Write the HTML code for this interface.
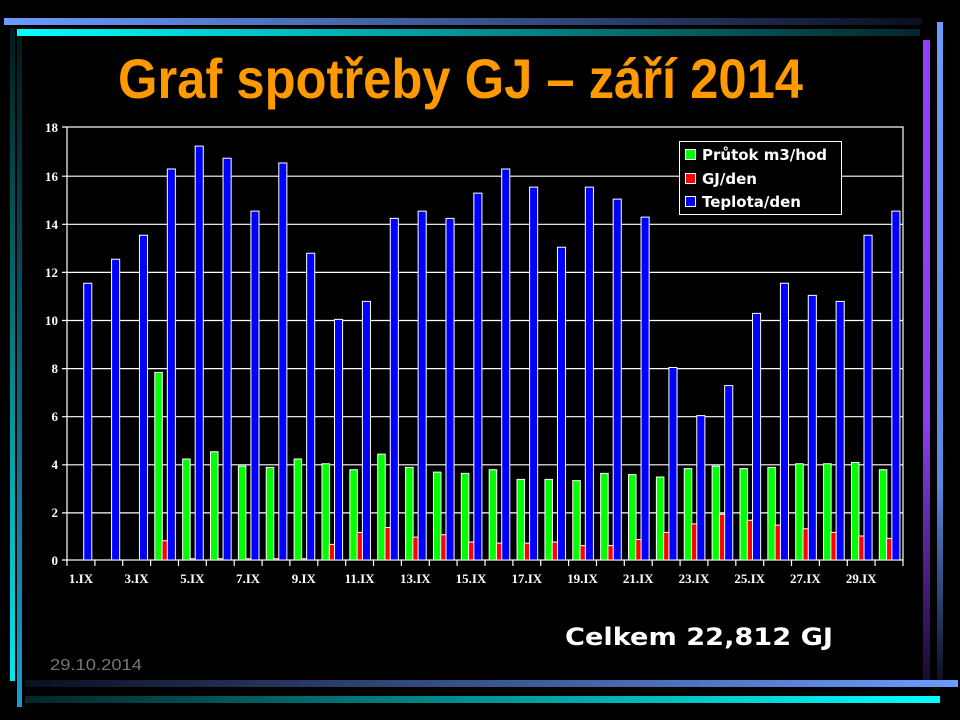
<!DOCTYPE html>
<html><head><meta charset="utf-8"><style>
html,body{margin:0;padding:0;background:#000;width:960px;height:720px;overflow:hidden}
g.bars rect{vector-effect:non-scaling-stroke;stroke:#fff;stroke-width:1}
</style></head><body>
<svg width="960" height="720" viewBox="0 0 960 720" xmlns="http://www.w3.org/2000/svg">
<defs>
<linearGradient id="gb" x1="0" x2="1"><stop offset="0" stop-color="#6a9cff"/><stop offset="1" stop-color="#0a0f20"/></linearGradient>
<linearGradient id="gc" x1="0" x2="1"><stop offset="0" stop-color="#00ffff"/><stop offset="1" stop-color="#04262a"/></linearGradient>
<linearGradient id="gbr" x1="0" x2="1"><stop offset="0" stop-color="#0a0f20"/><stop offset="1" stop-color="#6a9cff"/></linearGradient>
<linearGradient id="gcr" x1="0" x2="1"><stop offset="0" stop-color="#04262a"/><stop offset="1" stop-color="#00ffff"/></linearGradient>
<linearGradient id="vl1" x1="0" y1="0" x2="0" y2="1"><stop offset="0" stop-color="#031a1a"/><stop offset="1" stop-color="#00e8f0"/></linearGradient>
<linearGradient id="vl2" x1="0" y1="0" x2="0" y2="1"><stop offset="0" stop-color="#031a1a"/><stop offset="1" stop-color="#1a9cd0"/></linearGradient>
<linearGradient id="vr1" x1="0" y1="0" x2="0" y2="1"><stop offset="0" stop-color="#9040ff"/><stop offset="0.6" stop-color="#8a3cf0"/><stop offset="1" stop-color="#1a0a30"/></linearGradient>
<linearGradient id="vr2" x1="0" y1="0" x2="0" y2="1"><stop offset="0" stop-color="#6a9cff"/><stop offset="0.7" stop-color="#5a88e0"/><stop offset="1" stop-color="#0a0f20"/></linearGradient>
</defs>
<rect x="4" y="18" width="918" height="7" fill="url(#gb)"/>
<rect x="17" y="29" width="903" height="7" fill="url(#gc)"/>
<rect x="10" y="28" width="5" height="653" fill="url(#vl1)"/>
<rect x="17" y="36" width="5" height="671" fill="url(#vl2)"/>
<rect x="923" y="40" width="7" height="640" fill="url(#vr1)"/>
<rect x="937" y="22" width="6" height="660" fill="url(#vr2)"/>
<rect x="25" y="680" width="933" height="7" fill="url(#gbr)"/>
<rect x="25" y="696" width="915" height="7" fill="url(#gcr)"/>

<text x="118" y="98" textLength="685" lengthAdjust="spacingAndGlyphs" font-family="Liberation Sans Narrow, Liberation Sans, sans-serif" font-weight="bold" font-size="56" fill="#ff9900">Graf spotřeby GJ – září 2014</text>

<g stroke="#fff" stroke-width="1.2" fill="none">
<rect x="67" y="127" width="836" height="433"/>
<path d="M67 512.9H903M67 464.8H903M67 416.7H903M67 368.6H903M67 320.5H903M67 272.4H903M67 224.3H903M67 176.2H903"/>
<path d="M62 560H67M62 512.9H67M62 464.8H67M62 416.7H67M62 368.6H67M62 320.5H67M62 272.4H67M62 224.3H67M62 176.2H67M62 127H67"/>
<path d="M67 560V566M94.9 560V566M122.7 560V566M150.6 560V566M178.5 560V566M206.3 560V566M234.2 560V566M262.1 560V566M289.9 560V566M317.8 560V566M345.7 560V566M373.5 560V566M401.4 560V566M429.3 560V566M457.1 560V566M485 560V566M512.9 560V566M540.7 560V566M568.6 560V566M596.5 560V566M624.3 560V566M652.2 560V566M680.1 560V566M707.9 560V566M735.8 560V566M763.7 560V566M791.5 560V566M819.4 560V566M847.3 560V566M875.1 560V566M903 560V566"/>
</g>
<g font-family="Liberation Serif, serif" font-weight="bold" font-size="13" fill="#fff" text-anchor="end">
<text x="58" y="565">0</text><text x="58" y="517">2</text><text x="58" y="469">4</text><text x="58" y="421">6</text><text x="58" y="373">8</text><text x="58" y="325">10</text><text x="58" y="277">12</text><text x="58" y="229">14</text><text x="58" y="181">16</text><text x="58" y="132">18</text>
</g>
<g font-family="Liberation Serif, serif" font-weight="bold" font-size="13" fill="#fff" text-anchor="middle">
<text x="81" y="583">1.IX</text><text x="136.6" y="583">3.IX</text><text x="192.4" y="583">5.IX</text><text x="248.1" y="583">7.IX</text><text x="303.8" y="583">9.IX</text><text x="359.6" y="583">11.IX</text><text x="415.3" y="583">13.IX</text><text x="471" y="583">15.IX</text><text x="526.8" y="583">17.IX</text><text x="582.5" y="583">19.IX</text><text x="638.2" y="583">21.IX</text><text x="694" y="583">23.IX</text><text x="749.7" y="583">25.IX</text><text x="805.4" y="583">27.IX</text><text x="861.2" y="583">29.IX</text>
</g>

<g class="bars" transform="translate(67,560) scale(27.867,-24.06)">
<g fill="#00ff00">
<rect x="0.15" width="0.27" height="0"/><rect x="1.15" width="0.27" height="0"/><rect x="2.15" width="0.27" height="0"/><rect x="3.15" width="0.27" height="7.8"/><rect x="4.15" width="0.27" height="4.2"/><rect x="5.15" width="0.27" height="4.5"/><rect x="6.15" width="0.27" height="3.9"/><rect x="7.15" width="0.27" height="3.85"/><rect x="8.15" width="0.27" height="4.2"/><rect x="9.15" width="0.27" height="4.0"/><rect x="10.15" width="0.27" height="3.75"/><rect x="11.15" width="0.27" height="4.4"/><rect x="12.15" width="0.27" height="3.85"/><rect x="13.15" width="0.27" height="3.65"/><rect x="14.15" width="0.27" height="3.6"/><rect x="15.15" width="0.27" height="3.75"/><rect x="16.15" width="0.27" height="3.35"/><rect x="17.15" width="0.27" height="3.35"/><rect x="18.15" width="0.27" height="3.3"/><rect x="19.15" width="0.27" height="3.6"/><rect x="20.15" width="0.27" height="3.55"/><rect x="21.15" width="0.27" height="3.45"/><rect x="22.15" width="0.27" height="3.8"/><rect x="23.15" width="0.27" height="3.9"/><rect x="24.15" width="0.27" height="3.8"/><rect x="25.15" width="0.27" height="3.85"/><rect x="26.15" width="0.27" height="4.0"/><rect x="27.15" width="0.27" height="4.0"/><rect x="28.15" width="0.27" height="4.05"/><rect x="29.15" width="0.27" height="3.75"/>
</g>
<g fill="#ff0000">
<rect x="3.41" width="0.22" height="0.8"/><rect x="4.41" width="0.22" height="0.05"/><rect x="5.41" width="0.22" height="0.05"/><rect x="6.41" width="0.22" height="0.05"/><rect x="7.41" width="0.22" height="0.05"/><rect x="8.41" width="0.22" height="0.05"/><rect x="9.41" width="0.22" height="0.65"/><rect x="10.41" width="0.22" height="1.15"/><rect x="11.41" width="0.22" height="1.35"/><rect x="12.41" width="0.22" height="0.95"/><rect x="13.41" width="0.22" height="1.05"/><rect x="14.41" width="0.22" height="0.75"/><rect x="15.41" width="0.22" height="0.7"/><rect x="16.41" width="0.22" height="0.7"/><rect x="17.41" width="0.22" height="0.75"/><rect x="18.41" width="0.22" height="0.6"/><rect x="19.41" width="0.22" height="0.6"/><rect x="20.41" width="0.22" height="0.85"/><rect x="21.41" width="0.22" height="1.15"/><rect x="22.41" width="0.22" height="1.5"/><rect x="23.41" width="0.22" height="1.9"/><rect x="24.41" width="0.22" height="1.65"/><rect x="25.41" width="0.22" height="1.45"/><rect x="26.41" width="0.22" height="1.3"/><rect x="27.41" width="0.22" height="1.15"/><rect x="28.41" width="0.22" height="1.0"/><rect x="29.41" width="0.22" height="0.9"/>
</g>
<g fill="#0000ff">
<rect x="0.6" width="0.29" height="11.5"/><rect x="1.6" width="0.29" height="12.5"/><rect x="2.6" width="0.29" height="13.5"/><rect x="3.6" width="0.29" height="16.25"/><rect x="4.6" width="0.29" height="17.2"/><rect x="5.6" width="0.29" height="16.7"/><rect x="6.6" width="0.29" height="14.5"/><rect x="7.6" width="0.29" height="16.5"/><rect x="8.6" width="0.29" height="12.75"/><rect x="9.6" width="0.29" height="10"/><rect x="10.6" width="0.29" height="10.75"/><rect x="11.6" width="0.29" height="14.2"/><rect x="12.6" width="0.29" height="14.5"/><rect x="13.6" width="0.29" height="14.2"/><rect x="14.6" width="0.29" height="15.25"/><rect x="15.6" width="0.29" height="16.25"/><rect x="16.6" width="0.29" height="15.5"/><rect x="17.6" width="0.29" height="13"/><rect x="18.6" width="0.29" height="15.5"/><rect x="19.6" width="0.29" height="15"/><rect x="20.6" width="0.29" height="14.25"/><rect x="21.6" width="0.29" height="8"/><rect x="22.6" width="0.29" height="6"/><rect x="23.6" width="0.29" height="7.25"/><rect x="24.6" width="0.29" height="10.25"/><rect x="25.6" width="0.29" height="11.5"/><rect x="26.6" width="0.29" height="11"/><rect x="27.6" width="0.29" height="10.75"/><rect x="28.6" width="0.29" height="13.5"/><rect x="29.6" width="0.29" height="14.5"/>
</g>
</g>

<rect x="679.5" y="141.5" width="162" height="73" fill="#000" stroke="#fff" stroke-width="1"/>
<rect x="685.5" y="149.5" width="10" height="10" fill="#00ff00" stroke="#fff"/>
<rect x="685.5" y="173.5" width="10" height="10" fill="#ff0000" stroke="#fff"/>
<rect x="685.5" y="196.5" width="10" height="10" fill="#0000ff" stroke="#fff"/>
<g font-family="DejaVu Sans, sans-serif" font-weight="bold" font-size="15" fill="#fff">
<text x="702" y="160">Průtok m3/hod</text>
<text x="702" y="184">GJ/den</text>
<text x="702" y="207">Teplota/den</text>
</g>

<text x="565" y="645" font-family="DejaVu Sans, sans-serif" font-weight="bold" font-size="24" fill="#fff" textLength="268" lengthAdjust="spacingAndGlyphs">Celkem 22,812 GJ</text>
<text x="50" y="670" font-family="Liberation Sans, sans-serif" font-size="16" fill="#777" textLength="92" lengthAdjust="spacingAndGlyphs">29.10.2014</text>
</svg>
</body></html>
